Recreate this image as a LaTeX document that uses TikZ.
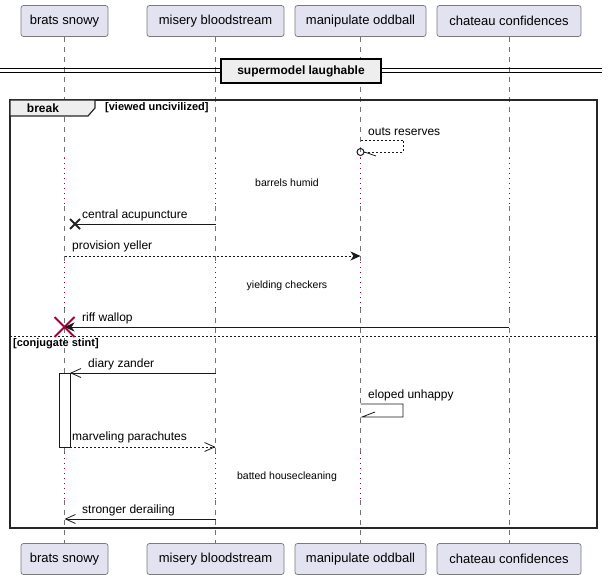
\documentclass[tikz,border=0pt]{standalone}
\usepackage{fontspec}
\setmainfont{Liberation Sans}
\usetikzlibrary{arrows.meta,calc}
\definecolor{partfill}{HTML}{E2E2F0}
\definecolor{partdraw}{HTML}{7A7A7A}
\definecolor{crim}{HTML}{A80036}
\definecolor{grpfill}{HTML}{EEEEEE}
\begin{document}
\begin{tikzpicture}[x=1pt,y=-1pt,
  part/.style={draw=partdraw,fill=partfill,line width=0.7pt,rounded corners=2.5pt,minimum height=31pt,inner sep=0pt,font=\fontsize{13}{15}\selectfont},
  lifeline/.style={draw=black!55,line width=0.6pt,dash pattern=on 5pt off 5pt},
  delayline/.style={draw=crim,line width=0.8pt,dash pattern=on 1pt off 4pt},
  msg/.style={draw=black!90,line width=0.8pt},
  rmsg/.style={msg,dash pattern=on 2pt off 2pt},
  lbl/.style={anchor=west,inner sep=0pt,font=\fontsize{12}{14}\selectfont},
  dlbl/.style={inner sep=0pt,font=\fontsize{10.5}{12}\selectfont},
  filled/.style={-{Stealth[length=10pt,width=9pt,inset=3pt]}},
  openarr/.style={-{Straight Barb[length=10pt,width=9pt]}},
  grp/.style={draw=black!85,line width=1.5pt}
]
\useasboundingbox (0,0) rectangle (608,580);
% participants
\node[part,minimum width=87pt]  (t1) at (64.5,21) {brats snowy};
\node[part,minimum width=137pt] (t2) at (215.5,21) {misery bloodstream};
\node[part,minimum width=131pt] (t3) at (360.5,21) {manipulate oddball};
\node[part,minimum width=144pt] (t4) at (509,21) {chateau confidences};
\node[part,minimum width=87pt]  (b1) at (64.5,559) {brats snowy};
\node[part,minimum width=137pt] (b2) at (215.5,559) {misery bloodstream};
\node[part,minimum width=131pt] (b3) at (360.5,559) {manipulate oddball};
\node[part,minimum width=144pt] (b4) at (509,559) {chateau confidences};
% lifelines
\foreach \p in {1,2,3,4}{
  \draw[lifeline] (t\p.south) -- (t\p.south |- 0,158);
  \draw[delayline] (t\p.south |- 0,158) -- (t\p.south |- 0,206);
  \draw[lifeline] (t\p.south |- 0,206) -- (t\p.south |- 0,262);
  \draw[delayline] (t\p.south |- 0,262) -- (t\p.south |- 0,308);
  \draw[lifeline] (t\p.south |- 0,308) -- (t\p.south |- 0,453);
  \draw[delayline] (t\p.south |- 0,453) -- (t\p.south |- 0,500);
  \draw[lifeline] (t\p.south |- 0,500) -- (b\p.north);
}
% divider
\draw[line width=1.1pt] (0,68.5) -- (602,68.5) (0,72.5) -- (602,72.5);
\node[draw=black,line width=1.5pt,fill=grpfill,minimum width=160pt,minimum height=24pt,inner sep=0pt,font=\bfseries\fontsize{12}{14}\selectfont] (div) at (301,71) {supermodel laughable};
% break frame
\draw[grp] (10,100) rectangle (597,528);
\draw[grp,fill=grpfill,line width=1.2pt] (10,100) -- (95,100) -- (95,108) -- (88,116) -- (10,116) -- cycle;
\node[inner sep=0pt,font=\bfseries\fontsize{12}{14}\selectfont] (brk) at (43,108.5) {break};
\node[lbl,font=\bfseries\fontsize{11}{13}\selectfont] (g1) at (105,108) {[viewed uncivilized]};
\draw[msg,dash pattern=on 2pt off 2pt,line width=0.8pt] (10,336) -- (597,336);
\node[lbl,font=\bfseries\fontsize{11}{13}\selectfont] (g2) at (13,344) {[conjugate stint]};
% outs reserves
\coordinate (or1) at (360.5,140);
\coordinate (or2) at (364,152);
\draw[rmsg] (or1) -- (403,140) -- (403,152) -- (or2);
\node[draw=black!90,line width=1pt,circle,minimum size=7pt,inner sep=0pt] (orc) at (360.5,152) {};
\draw[msg] (orc.east) -- (376,156);
\node[lbl] (l1) at (368,131.5) {outs reserves};
% delays
\node[dlbl] (d1) at (287,183) {barrels humid};
\node[dlbl] (d2) at (287,286) {yielding checkers};
\node[dlbl] (d3) at (287,477) {batted housecleaning};
% central acupuncture
\coordinate (ca1) at (215.5,224);
\coordinate (ca2) at (75,224);
\draw[msg] (ca1) -- (ca2);
\draw[draw=black!85,line width=2pt] ($(ca2)+(-5,-5)$) -- ($(ca2)+(5,5)$) ($(ca2)+(-5,5)$) -- ($(ca2)+(5,-5)$);
\node[lbl] (l2) at (82,215.5) {central acupuncture};
% provision yeller
\coordinate (py1) at (64.5,256);
\coordinate (py2) at (360.5,256);
\draw[rmsg,filled] (py1) -- (py2);
\node[lbl] (l3) at (72,246) {provision yeller};
% riff wallop
\coordinate (rw1) at (509,327);
\coordinate (rw2) at (64.5,327);
\draw[draw=crim,line width=1.8pt] ($(rw2)+(-10,-10)$) -- ($(rw2)+(10,10)$) ($(rw2)+(-10,10)$) -- ($(rw2)+(10,-10)$);
\draw[msg,filled] (rw1) -- (rw2);
\node[lbl] (l4) at (82,318.5) {riff wallop};
% activation
\node[draw=black!90,fill=white,line width=0.8pt,minimum width=11pt,minimum height=74pt,inner sep=0pt] (act) at (64.5,410) {};
% diary zander
\coordinate (dz1) at (215.5,373);
\coordinate (dz2) at (70,373);
\draw[msg,openarr] (dz1) -- (dz2);
\node[lbl] (l5) at (88,364.5) {diary zander};
% eloped unhappy
\coordinate (eu1) at (360.5,404);
\coordinate (eu2) at (362,417);
\draw[msg] (eu1) -- (403,404) -- (403,417) -- (eu2) -- (375,412);
\node[lbl] (l6) at (368,395.5) {eloped unhappy};
% marveling parachutes
\coordinate (mp1) at (70,447);
\coordinate (mp2) at (215.5,447);
\draw[rmsg,openarr] (mp1) -- (mp2);
\node[lbl] (l7) at (72,437.5) {marveling parachutes};
% stronger derailing
\coordinate (sd1) at (215.5,519);
\coordinate (sd2) at (64.5,519);
\draw[msg,openarr] (sd1) -- (sd2);
\node[lbl] (l8) at (82,510.5) {stronger derailing};
\end{tikzpicture}
\end{document}
